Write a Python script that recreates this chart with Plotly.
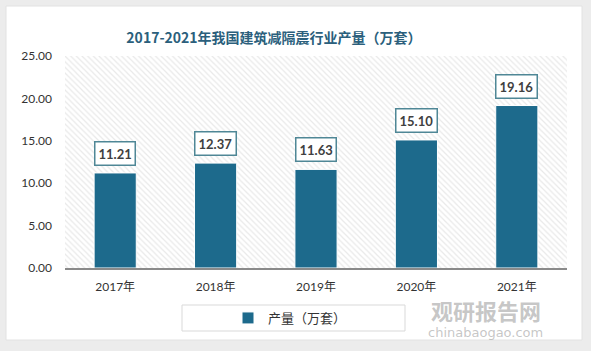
import plotly.graph_objects as go

years = ["2017年", "2018年", "2019年", "2020年", "2021年"]
output = [11.21, 12.37, 11.63, 15.10, 19.16]
series_name = "产量（万套）"
title_text = "2017-2021年我国建筑减隔震行业产量（万套）"
y_ticks = [0, 5, 10, 15, 20, 25]
y_max = 25

W, H = 591, 351
L, R, T, B = 65, 24, 56, 83
pw, ph = W - L - R, H - T - B

def px_x(p):
    return (p - L) / pw

def px_y(p):
    return (H - B - p) / ph

fig = go.Figure()

# hatched plot background (base axis)
fig.add_trace(go.Bar(
    x=[0.5], y=[y_max], width=[1], xaxis="x", yaxis="y",
    marker=dict(color="white", line=dict(width=0),
                pattern=dict(shape="\\", fgcolor="#d3d3d3", bgcolor="white", size=4, solidity=0.3)),
    showlegend=False, hoverinfo="skip",
))

# data bars
fig.add_trace(go.Bar(
    x=years, y=output, name=series_name, xaxis="x2", yaxis="y",
    marker=dict(color="#1d6a8c", line=dict(color="white", width=1)),
    width=0.42,
))

for yr, v in zip(years, output):
    fig.add_annotation(
        x=yr, y=v, xref="x2", yref="y", text="<b>%.2f</b>" % v,
        showarrow=False, yanchor="bottom", yshift=7,
        bgcolor="white", bordercolor="#4f8796", borderwidth=1.5, borderpad=3,
        font=dict(family="Lato, Noto Sans", size=13, color="#404040"),
    )

shapes = [
    # white card
    dict(type="rect", xref="paper", yref="paper", layer="below",
         x0=px_x(6), x1=px_x(582), y0=px_y(340), y1=px_y(6),
         fillcolor="white", line=dict(color="#e2e2e2", width=1)),
    # legend box
    dict(type="rect", xref="paper", yref="paper",
         x0=px_x(182), x1=px_x(405), y0=px_y(331), y1=px_y(305),
         fillcolor="rgba(0,0,0,0)", line=dict(color="#d9d9d9", width=1)),
]

fig.add_annotation(xref="paper", yref="paper", x=px_x(430), xanchor="left",
                   y=px_y(310), yanchor="middle", text="<b>观研报告网</b>",
                   showarrow=False, borderpad=0,
                   font=dict(family="Noto Sans CJK SC", size=22, color="rgba(150,150,150,0.55)"))
fig.add_annotation(xref="paper", yref="paper", x=px_x(427), xanchor="left",
                   y=px_y(332), yanchor="middle", text="chinabaogao.com",
                   showarrow=False, borderpad=0,
                   font=dict(family="DejaVu Sans", size=13, color="rgba(150,150,150,0.55)"))

fig.update_layout(
    width=W, height=H,
    margin=dict(l=L, r=R, t=T, b=B),
    paper_bgcolor="#ececec", plot_bgcolor="white",
    title=dict(text="<b>" + title_text + "</b>", x=274 / W, xanchor="center",
               y=1 - 38 / H, yanchor="middle",
               font=dict(family="Noto Sans CJK SC", size=14, color="#2b5f7c")),
    xaxis=dict(range=[0, 1], visible=False, fixedrange=True),
    xaxis2=dict(overlaying="x", side="bottom", type="category",
                showline=True, linecolor="#8a8a8a", linewidth=1.5,
                ticks="", ticklabelstandoff=7,
                tickfont=dict(family="Lato, Noto Sans CJK SC", size=12, color="#333333"),
                showgrid=False, anchor="y"),
    yaxis=dict(range=[0, y_max], tickvals=y_ticks, tickformat=".2f",
               showgrid=False, zeroline=False, showline=False, ticks="",
               ticklabelstandoff=12,
               tickfont=dict(family="Lato, Noto Sans", size=12, color="#333333")),
    barmode="overlay",
    bargap=0.58,
    showlegend=True,
    legend=dict(orientation="h", x=px_x(290), xanchor="center", y=px_y(318), yanchor="middle",
                bgcolor="rgba(0,0,0,0)", font=dict(family="Noto Sans CJK SC", size=13, color="#333333"),
                itemwidth=30),
    shapes=shapes,
)

fig.write_html("out.html")
